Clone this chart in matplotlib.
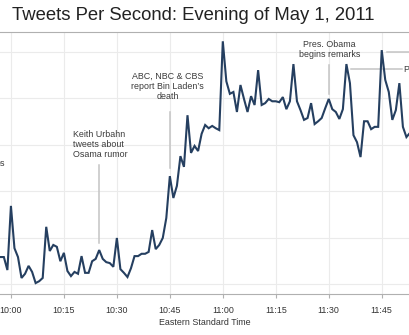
import datetime as dt
import pandas as pd
import matplotlib
matplotlib.use('Agg')
import matplotlib.pyplot as plt
import matplotlib.dates as mdates

plt.rcParams['font.family'] = ['Liberation Sans', 'DejaVu Sans']

# tweets per second, one value per minute starting 9:56
tps = [1580, 1580, 1580, 1300, 2680, 1770, 1580, 1130, 1220, 1390,
       1260, 1020, 1060, 1130, 2230, 1710, 1840, 1800, 1490, 1670,
       1280, 1170, 1260, 1220, 1600, 1240, 1240, 1490, 1540, 1730,
       1540, 1470, 1450, 1370, 1990, 1320, 1240, 1150, 1340, 1600,
       1600, 1650, 1650, 1690, 2160, 1750, 1840, 1990, 2420, 3320,
       2850, 3110, 3750, 3520, 4630, 3820, 3970, 3860, 4230, 4420,
       4350, 4400, 4350, 4310, 6220, 5360, 5090, 5130, 4700, 5280,
       4980, 4700, 5040, 4850, 5600, 4850, 4890, 4980, 4930, 4930,
       4910, 5020, 4760, 4930, 5730, 4930, 4740, 4530, 4570, 4890,
       4440, 4500, 4570, 4780, 4980, 4760, 4700, 4550, 4760, 5730,
       5320, 4200, 4050, 3730, 4500, 4500, 4330, 4380, 4380, 6030,
       5390, 5130, 4530, 4740, 5320, 4380, 4160, 4250]
times = pd.date_range('2011-05-01 21:56', periods=len(tps), freq='min')

day = dt.datetime(2011, 5, 1)
def t(h, m, s=0):
    return day + dt.timedelta(hours=h, minutes=m, seconds=s)

# annotations: text, text position, alignment, pointer line
notes = [
    ('es', t(21, 58, 20), 3600, 'right', None),
    ('Keith Urbahn\ntweets about\nOsama rumor', t(22, 17, 33), 4000, 'left',
     (t(22, 25), t(22, 25), 3560, 1880)),
    ('ABC, NBC & CBS\nreport Bin Laden\u2019s\ndeath', t(22, 44, 24), 5246, 'center',
     (t(22, 45), t(22, 45), 4700, 3490)),
    ('Pres. Obama\nbegins remarks', t(23, 30, 12), 6052, 'center',
     (t(23, 30), t(23, 30), 5710, 5085)),
    ('Pres. Obama: \u201cJustice has been done\u201d', t(23, 51, 12), 5620, 'left',
     (t(23, 36, 12), t(23, 50, 42), 5620, 5620)),
    ('', t(23, 59), 5990, 'left',
     (t(23, 46, 24), t(23, 58), 5990, 5990)),
]

fig = plt.figure(figsize=(4.1, 3.35), dpi=100)
ax = fig.add_axes([-60 / 410, 1 - 294 / 335, 530 / 410, 262 / 335])

ax.plot(times, tps, color='#253f60', lw=1.5, zorder=3, solid_joinstyle='miter')

for text, tx, ty, ha, line in notes:
    if line is not None:
        ax.plot([line[0], line[1]], [line[2], line[3]], color='#c4c4c4', lw=1.1, zorder=2)
    if text:
        ax.text(tx, ty, text, ha=ha, va='center', multialignment=ha,
                fontsize=6.4, color='#3a3a3a', linespacing=1.15)

ax.set_xlim(t(21, 40, 0) - dt.timedelta(seconds=5), t(23, 50) + dt.timedelta(minutes=20))
ax.set_ylim(785, 6420)
ax.set_yticks([1000, 2000, 3000, 4000, 5000, 6000])
ax.xaxis.set_major_locator(mdates.MinuteLocator(byminute=[0, 15, 30, 45]))
ax.xaxis.set_major_formatter(mdates.DateFormatter('%I:%M'))

ax.grid(True, color='#ebebeb', lw=0.8)
ax.set_axisbelow(True)
for side in ['left', 'right']:
    ax.spines[side].set_visible(False)
for side in ['top', 'bottom']:
    ax.spines[side].set_color('#b0b0b0')
    ax.spines[side].set_linewidth(0.8)
ax.tick_params(axis='x', length=3, width=0.8, color='#b0b0b0', pad=5.5,
               labelsize=6.4, labelcolor='#333333')
ax.tick_params(axis='y', length=0, labelleft=False)
ax.set_xlabel('Eastern Standard Time', fontsize=6.4, color='#333333', labelpad=2.5)

fig.text(12 / 410, 1 - 15 / 335, 'Tweets Per Second: Evening of May 1, 2011',
         ha='left', va='center', fontsize=13.3, color='#222222')

fig.savefig('out.png', dpi=100)
